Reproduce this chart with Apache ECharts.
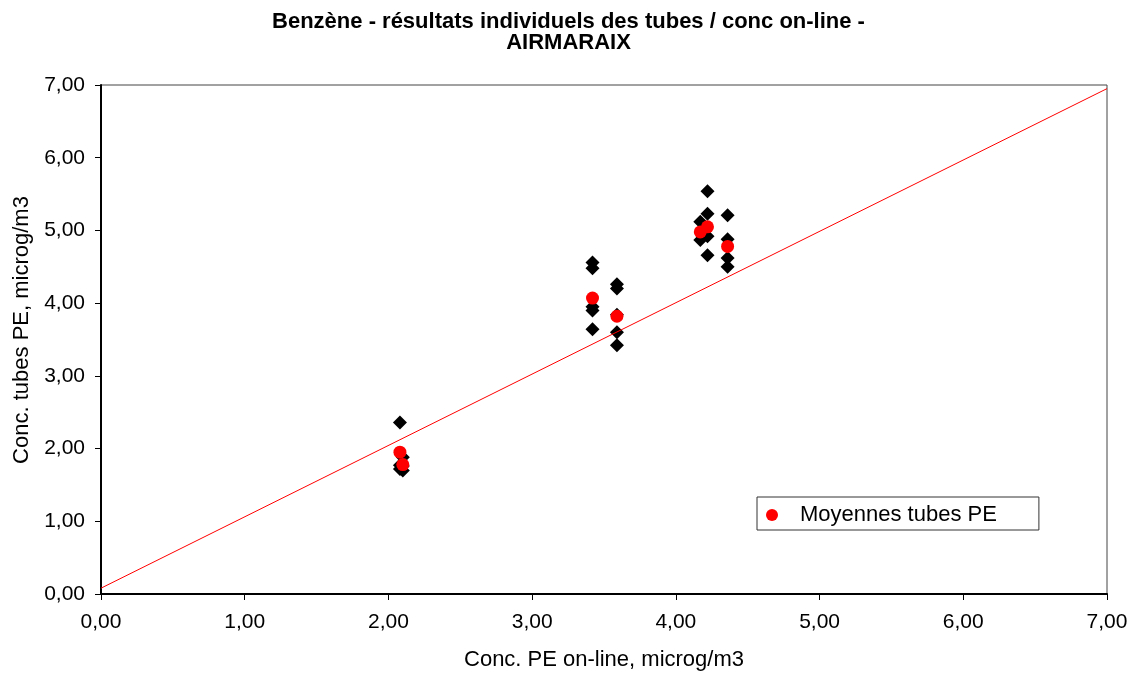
<!DOCTYPE html>
<html>
<head>
<meta charset="utf-8">
<script src="https://cdn.jsdelivr.net/npm/echarts@6/dist/echarts.min.js"></script>
<style>
  html, body { margin: 0; padding: 0; background: #fff; }
  #chart { width: 1137px; height: 678px; }
</style>
</head>
<body>
<div id="chart"></div>
<script>
// On-line benzene concentration for each sampling period (µg/m3)
const onlineConc = [2.08, 2.10, 3.42, 3.59, 4.17, 4.22, 4.36];
// Individual passive tube results for each period (µg/m3)
const tubeValues = [
  [2.36, 1.77, 1.72],
  [1.88, 1.76, 1.70],
  [4.56, 4.48, 3.95, 3.90, 3.64],
  [4.26, 4.20, 3.84, 3.60, 3.42],
  [5.12, 4.87],
  [5.54, 5.23, 4.92, 4.66],
  [5.21, 4.88, 4.62, 4.50]
];
// Mean of the tubes for each period
const tubeMeans = [1.95, 1.78, 4.07, 3.82, 4.98, 5.05, 4.78];
// Linear trend end points
const trendX = [0, 7];
const trendY = [0.08, 6.95];
// Axis ticks
const axisTicks = [0, 1, 2, 3, 4, 5, 6, 7];

const FONT = "'Liberation Sans', Arial, sans-serif";

const tubePoints = [];
onlineConc.forEach((x, i) => tubeValues[i].forEach(y => tubePoints.push([x, y])));
const meanPoints = onlineConc.map((x, i) => [x, tubeMeans[i]]);
const trendPoints = trendX.map((x, i) => [x, trendY[i]]);

const fmt = v => v.toFixed(2).replace('.', ',');

const axisCommon = {
  type: 'value',
  min: axisTicks[0],
  max: axisTicks[axisTicks.length - 1],
  interval: 1,
  splitLine: { show: false },
  axisLine: { show: true, onZero: false, lineStyle: { color: '#000', width: 2 } },
  axisTick: { show: true, length: 6, lineStyle: { color: '#000', width: 1 } },
  axisLabel: { color: '#000', fontSize: 21, fontFamily: FONT, formatter: fmt },
  nameLocation: 'middle',
  nameTextStyle: { color: '#000', fontSize: 22, fontFamily: FONT }
};

const chart = echarts.init(document.getElementById('chart'), null, { renderer: 'canvas' });
chart.setOption({
  animation: false,
  backgroundColor: '#fff',
  title: {
    text: 'Benzène - résultats individuels des tubes / conc on-line -\nAIRMARAIX',
    left: 'center',
    top: 6,
    textStyle: { color: '#000', fontSize: 22, fontWeight: 'bold', fontFamily: FONT, lineHeight: 21 }
  },
  grid: {
    left: 101, top: 85, right: 30, bottom: 84,
    show: true, borderColor: '#444', borderWidth: 1, backgroundColor: 'transparent'
  },
  legend: {
    data: ['Moyennes tubes PE'],
    left: 757,
    top: 497,
    orient: 'vertical',
    padding: [3, 42, 0, 9],
    borderColor: '#333',
    borderWidth: 1,
    backgroundColor: '#fff',
    itemWidth: 12,
    itemHeight: 12,
    icon: 'circle',
    textStyle: { color: '#000', fontSize: 22, fontFamily: FONT, lineHeight: 22, padding: [0, 0, 8, 17] }
  },
  xAxis: Object.assign({}, axisCommon, {
    name: 'Conc. PE on-line, microg/m3',
    nameGap: 55,
    axisLabel: Object.assign({}, axisCommon.axisLabel, { margin: 18 })
  }),
  yAxis: Object.assign({}, axisCommon, {
    name: 'Conc. tubes PE, microg/m3',
    nameGap: 67,
    nameTextStyle: Object.assign({}, axisCommon.nameTextStyle, { padding: [0, 0, 0, 19] }),
    axisLabel: Object.assign({}, axisCommon.axisLabel, { margin: 16 })
  }),
  series: [
    {
      name: 'Tubes PE',
      type: 'scatter',
      symbol: 'diamond',
      symbolSize: 14,
      itemStyle: { color: '#000', opacity: 1 },
      data: tubePoints,
      z: 2
    },
    {
      name: 'Moyennes tubes PE',
      type: 'scatter',
      symbol: 'circle',
      symbolSize: 13,
      itemStyle: { color: '#ff0000', opacity: 1 },
      data: meanPoints,
      z: 3
    },
    {
      name: 'Tendance',
      type: 'line',
      data: trendPoints,
      symbol: 'none',
      lineStyle: { color: '#ff0000', width: 1 },
      z: 4
    }
  ]
});
</script>
</body>
</html>
